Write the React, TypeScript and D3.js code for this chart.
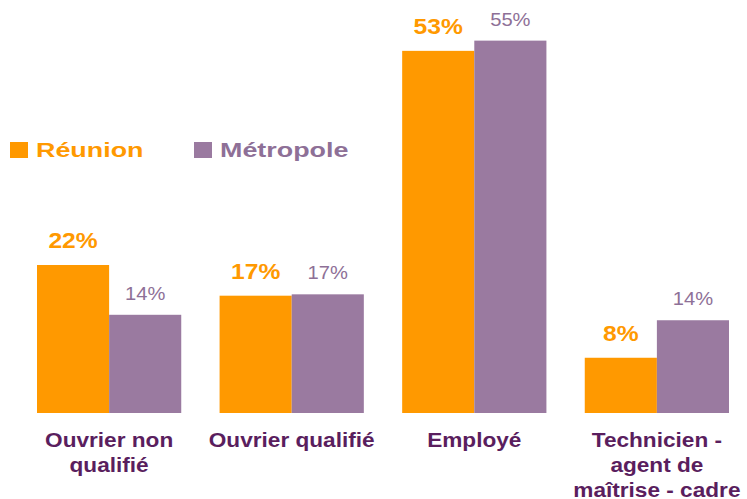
import React from "react";
import * as d3 from "d3";

const categories: string[][] = [
  ["Ouvrier non", "qualifié"],
  ["Ouvrier qualifié"],
  ["Employé"],
  ["Technicien -", "agent de", "maîtrise - cadre"],
];
const categoryKeys = ["onq", "oq", "emp", "tech"];
const reunionValues = [21.7, 17.2, 53.1, 8.1];
const metropoleValues = [14.4, 17.4, 54.6, 13.6];
const seriesNames = ["Réunion", "Métropole"];

const W = 747;
const H = 499;
const ORANGE = "#FF9900";
const PURPLE = "#9A7AA0";
const PURPLE_TEXT = "#8E7097";
const DARK = "#5A1E5E";
const FONT = "'Liberation Sans', Arial, sans-serif";

function SText(props: {
  x: number;
  y: number;
  sx: number;
  size: number;
  weight?: string;
  fill: string;
  anchor?: string;
  children: React.ReactNode;
}) {
  const { x, y, sx, size, weight, fill, anchor, children } = props;
  return (
    <text
      transform={`translate(${x},${y}) scale(${sx},1)`}
      fontFamily={FONT}
      fontSize={size}
      fontWeight={weight || "normal"}
      fill={fill}
      textAnchor={anchor || "middle"}
    >
      {children}
    </text>
  );
}

export default function App() {
  const x = d3
    .scaleBand<string>()
    .domain(categoryKeys)
    .range([37, 729])
    .paddingInner(0.21)
    .paddingOuter(0);
  const half = x.bandwidth() / 2;
  const y = d3.scaleLinear().domain([0, 60]).range([413, 413 - 60 * 6.82]);
  const fmt = (v: number) => `${Math.round(v)}%`;

  return (
    <svg
      width={W}
      height={H}
      style={{ position: "absolute", left: 0, top: 0, background: "#fff" }}
    >
      <rect width={W} height={H} fill="#fff" />
      {categoryKeys.map((k, i) => {
        const x0 = x(k) as number;
        const rv = reunionValues[i];
        const mv = metropoleValues[i];
        return (
          <g key={k}>
            <rect x={x0} y={y(rv)} width={half} height={y(0) - y(rv)} fill={ORANGE} />
            <rect x={x0 + half} y={y(mv)} width={half} height={y(0) - y(mv)} fill={PURPLE} />
            <SText x={x0 + half / 2} y={y(rv) - 17} sx={1.12} size={22} weight="bold" fill={ORANGE}>
              {fmt(rv)}
            </SText>
            <SText x={x0 + half * 1.5} y={y(mv) - 15} sx={1.12} size={18} fill={PURPLE_TEXT}>
              {fmt(mv)}
            </SText>
            {categories[i].map((line, j) => (
              <SText
                key={j}
                x={x0 + half}
                y={447 + j * 25}
                sx={1.16}
                size={19.5}
                weight="bold"
                fill={DARK}
              >
                {line}
              </SText>
            ))}
          </g>
        );
      })}
      <g>
        <rect x={10} y={142} width={18} height={16} fill={ORANGE} />
        <SText x={36} y={157} sx={1.28} size={21} weight="bold" fill={ORANGE} anchor="start">
          {seriesNames[0]}
        </SText>
        <rect x={194} y={142} width={18} height={16} fill={PURPLE} />
        <SText x={220} y={157} sx={1.28} size={21} weight="bold" fill={PURPLE_TEXT} anchor="start">
          {seriesNames[1]}
        </SText>
      </g>
    </svg>
  );
}
